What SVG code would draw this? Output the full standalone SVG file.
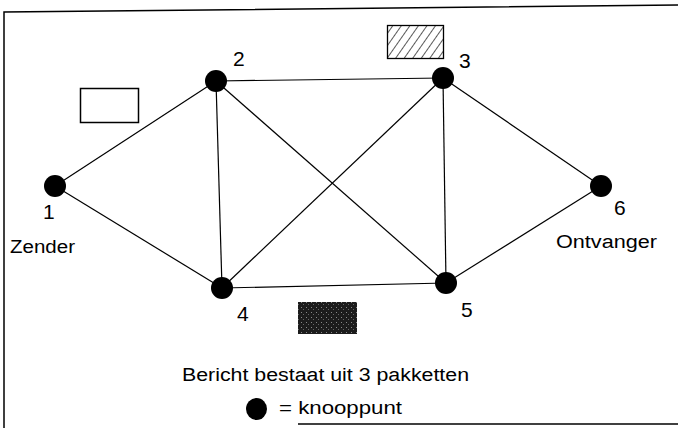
<svg xmlns="http://www.w3.org/2000/svg" width="678" height="428" viewBox="0 0 678 428">
<style>
.e{stroke:#000;stroke-width:1.2;fill:none}
.n{fill:#000}
.t{font-family:"Liberation Sans",Arial,sans-serif;font-size:18px;fill:#000}
.d{font-family:"Liberation Sans",Arial,sans-serif;font-size:21px;fill:#000}
.f{stroke:#000;stroke-width:1.5;fill:none}
</style>
<defs>
<pattern id="hatch" patternUnits="userSpaceOnUse" width="7" height="7" patternTransform="rotate(35)">
<line x1="0" y1="0" x2="0" y2="7" stroke="#000" stroke-width="1.3"/>
</pattern>
<pattern id="dots" patternUnits="userSpaceOnUse" width="5" height="5">
<rect width="5" height="5" fill="#1c1c1c"/>
<rect x="1" y="2" width="1" height="1" fill="#888"/>
<rect x="3" y="4" width="1" height="1" fill="#666"/>
</pattern>
</defs>
<rect width="678" height="428" fill="#fff"/>
<g id="frame">
<path class="f" d="M4,428 V12 L678,5"/>
<line class="f" x1="298" y1="424" x2="678" y2="424"/>
</g>
<g id="connectors">
<line class="e" x1="55" y1="186" x2="216" y2="81"/>
<line class="e" x1="55" y1="186" x2="222" y2="288"/>
<line class="e" x1="216" y1="81" x2="443" y2="78"/>
<line class="e" x1="216" y1="81" x2="222" y2="288"/>
<line class="e" x1="216" y1="81" x2="446" y2="283"/>
<line class="e" x1="443" y1="78" x2="222" y2="288"/>
<line class="e" x1="443" y1="78" x2="446" y2="283"/>
<line class="e" x1="443" y1="78" x2="601" y2="186"/>
<line class="e" x1="222" y1="288" x2="446" y2="283"/>
<line class="e" x1="446" y1="283" x2="601" y2="186"/>
</g>
<g id="node1"><circle class="n" cx="55" cy="186" r="11"/><text class="d" x="43" y="219">1</text><text class="t" x="10" y="253" textLength="65" lengthAdjust="spacingAndGlyphs">Zender</text></g>
<g id="node2"><circle class="n" cx="216" cy="81" r="11"/><text class="d" x="233" y="66">2</text></g>
<g id="node3"><circle class="n" cx="443" cy="78" r="11"/><text class="d" x="459" y="68">3</text></g>
<g id="node4"><circle class="n" cx="222" cy="288" r="11"/><text class="d" x="237" y="321">4</text></g>
<g id="node5"><circle class="n" cx="446" cy="283" r="11"/><text class="d" x="461" y="317">5</text></g>
<g id="node6"><circle class="n" cx="601" cy="186" r="11"/><text class="d" x="614" y="215">6</text><text class="t" x="556" y="248" textLength="101" lengthAdjust="spacingAndGlyphs">Ontvanger</text></g>
<g id="packets">
<rect x="80.5" y="88.5" width="58" height="34" fill="#fff" stroke="#000" stroke-width="1.5"/>
<rect x="387.5" y="25.5" width="56" height="33" fill="url(#hatch)" stroke="#000" stroke-width="1.3"/>
<rect x="298" y="302" width="59" height="32" fill="url(#dots)"/>
</g>
<g id="legend">
<text class="t" x="182" y="381" textLength="287" lengthAdjust="spacingAndGlyphs">Bericht bestaat uit 3 pakketten</text>
<ellipse class="n" cx="256.5" cy="409" rx="10.5" ry="11"/>
<text class="t" x="279" y="414" textLength="123" lengthAdjust="spacingAndGlyphs">= knooppunt</text>
</g>
</svg>
